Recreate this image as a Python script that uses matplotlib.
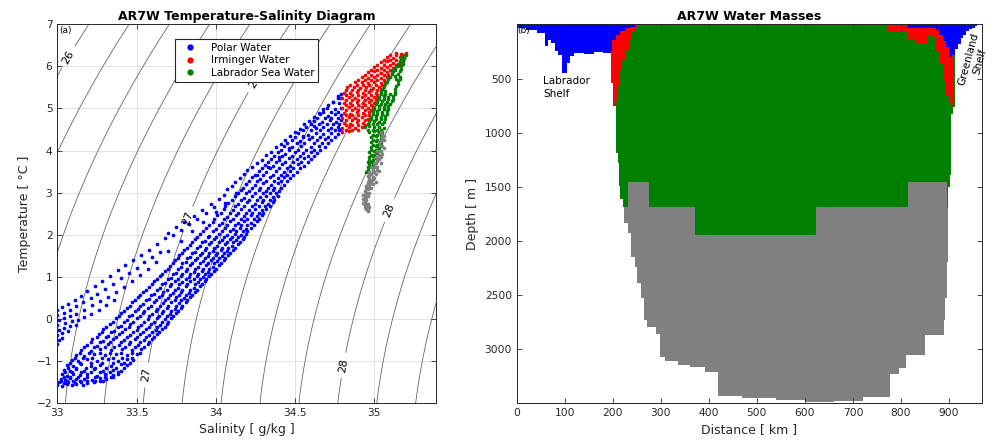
import numpy as np
import matplotlib
matplotlib.use('Agg')
import matplotlib.pyplot as plt
from matplotlib.lines import Line2D

# ---- T-S diagram data (Salinity g/kg, Temperature degC) ----
polar_body = [
    (33.00,-1.57),(33.03,-1.59),(33.06,-1.56),(33.09,-1.58),(33.12,-1.55),(33.16,-1.57),
    (33.01,-1.50),(33.04,-1.53),(33.07,-1.51),(33.11,-1.53),(33.15,-1.50),(33.19,-1.52),(33.23,-1.49),(33.27,-1.47),
    (33.02,-1.42),(33.05,-1.45),(33.08,-1.41),(33.12,-1.44),(33.17,-1.42),(33.22,-1.45),(33.27,-1.41),(33.31,-1.43),(33.34,-1.39),
    (33.03,-1.32),(33.06,-1.35),(33.10,-1.31),(33.14,-1.34),(33.19,-1.31),(33.25,-1.35),(33.30,-1.32),(33.35,-1.34),(33.38,-1.30),
    (33.04,-1.21),(33.08,-1.24),(33.12,-1.20),(33.17,-1.23),(33.23,-1.20),(33.29,-1.24),(33.35,-1.21),(33.40,-1.23),
    (33.06,-1.10),(33.10,-1.12),(33.15,-1.08),(33.21,-1.11),(33.27,-1.09),(33.34,-1.12),(33.40,-1.08),(33.44,-1.10),
    (33.09,-0.97),(33.13,-1.00),(33.19,-0.96),(33.25,-0.99),(33.32,-0.96),(33.38,-0.99),(33.44,-0.96),(33.48,-0.98),
    (33.12,-0.85),(33.17,-0.88),(33.23,-0.84),(33.30,-0.87),(33.37,-0.84),(33.44,-0.87),(33.50,-0.84),
    (33.15,-0.73),(33.21,-0.76),(33.27,-0.72),(33.34,-0.75),(33.41,-0.72),(33.47,-0.75),(33.53,-0.72),
    (33.19,-0.61),(33.25,-0.64),(33.32,-0.60),(33.39,-0.63),(33.45,-0.60),(33.51,-0.63),(33.57,-0.60),
    (33.22,-0.49),(33.29,-0.52),(33.35,-0.48),(33.42,-0.51),(33.49,-0.48),(33.55,-0.51),(33.60,-0.48),
    (33.26,-0.37),(33.32,-0.40),(33.39,-0.36),(33.46,-0.39),(33.52,-0.36),(33.58,-0.39),(33.63,-0.36),
    (33.29,-0.25),(33.36,-0.28),(33.43,-0.24),(33.50,-0.27),(33.56,-0.24),(33.62,-0.27),(33.66,-0.24),
    (33.33,-0.13),(33.40,-0.16),(33.46,-0.12),(33.53,-0.15),(33.59,-0.12),(33.65,-0.15),(33.69,-0.12),
    (33.37,0.01),(33.44,-0.02),(33.50,0.02),(33.57,-0.01),(33.63,0.02),(33.68,-0.01),(33.72,0.02),
    (33.40,0.13),(33.47,0.10),(33.54,0.14),(33.60,0.11),(33.66,0.14),(33.71,0.11),(33.75,0.14),
    (33.44,0.26),(33.51,0.23),(33.57,0.27),(33.63,0.24),(33.69,0.27),(33.74,0.24),(33.78,0.27),
    (33.47,0.39),(33.54,0.36),(33.61,0.40),(33.67,0.37),(33.72,0.40),(33.77,0.37),(33.81,0.40),
    (33.51,0.51),(33.58,0.48),(33.64,0.52),(33.70,0.49),(33.75,0.52),(33.80,0.49),(33.84,0.52),
    (33.54,0.63),(33.61,0.60),(33.67,0.64),(33.73,0.61),(33.78,0.64),(33.83,0.61),(33.87,0.64),
    (33.58,0.76),(33.65,0.73),(33.71,0.77),(33.76,0.74),(33.81,0.77),(33.86,0.74),(33.90,0.77),
    (33.61,0.89),(33.68,0.86),(33.74,0.90),(33.79,0.87),(33.84,0.90),(33.89,0.87),(33.93,0.90),
    (33.65,1.01),(33.72,0.98),(33.78,1.02),(33.83,0.99),(33.88,1.02),(33.92,0.99),(33.96,1.02),
    (33.68,1.13),(33.75,1.10),(33.81,1.14),(33.86,1.11),(33.91,1.14),(33.95,1.11),(33.99,1.14),
    (33.71,1.26),(33.78,1.23),(33.84,1.27),(33.89,1.24),(33.94,1.27),(33.98,1.24),(34.02,1.27),
    (33.74,1.39),(33.81,1.36),(33.87,1.40),(33.92,1.37),(33.97,1.40),(34.01,1.37),(34.05,1.40),
    (33.77,1.51),(33.84,1.48),(33.90,1.52),(33.95,1.49),(34.00,1.52),(34.04,1.49),(34.08,1.52),
    (33.80,1.63),(33.87,1.60),(33.93,1.64),(33.98,1.61),(34.03,1.64),(34.07,1.61),(34.11,1.64),
    (33.84,1.76),(33.90,1.73),(33.96,1.77),(34.01,1.74),(34.06,1.77),(34.10,1.74),(34.14,1.77),
    (33.87,1.89),(33.93,1.86),(33.99,1.90),(34.04,1.87),(34.09,1.90),(34.13,1.87),(34.17,1.90),
    (33.90,2.01),(33.96,1.98),(34.02,2.02),(34.07,1.99),(34.12,2.02),(34.16,1.99),(34.19,2.02),
    (33.94,2.16),(34.00,2.13),(34.06,2.17),(34.11,2.14),(34.15,2.17),(34.19,2.14),(34.22,2.17),
    (33.98,2.31),(34.04,2.28),(34.09,2.32),(34.14,2.29),(34.18,2.32),(34.22,2.29),(34.26,2.32),
    (34.01,2.46),(34.07,2.43),(34.13,2.47),(34.18,2.44),(34.22,2.47),(34.26,2.44),(34.29,2.47),
    (34.05,2.61),(34.11,2.58),(34.16,2.62),(34.21,2.59),(34.25,2.62),(34.29,2.59),(34.32,2.62),
    (34.08,2.76),(34.14,2.73),(34.20,2.77),(34.25,2.74),(34.29,2.77),(34.33,2.74),(34.36,2.77),
    (34.12,2.91),(34.18,2.88),(34.23,2.92),(34.28,2.89),(34.32,2.92),(34.36,2.89),(34.39,2.92),
    (34.16,3.06),(34.21,3.03),(34.27,3.07),(34.32,3.04),(34.36,3.07),(34.40,3.04),
    (34.19,3.21),(34.25,3.18),(34.30,3.22),(34.35,3.19),(34.39,3.22),(34.43,3.19),
    (34.23,3.36),(34.28,3.33),(34.34,3.37),(34.39,3.34),(34.43,3.37),(34.47,3.34),
    (34.27,3.51),(34.32,3.48),(34.38,3.52),(34.43,3.49),(34.47,3.52),(34.51,3.49),
    (34.31,3.66),(34.36,3.63),(34.42,3.67),(34.47,3.64),(34.52,3.67),(34.56,3.64),
    (34.35,3.81),(34.40,3.78),(34.46,3.82),(34.51,3.79),(34.56,3.82),(34.60,3.79),
    (34.39,3.96),(34.44,3.93),(34.50,3.97),(34.55,3.94),(34.60,3.97),(34.64,3.94),
    (34.43,4.11),(34.48,4.08),(34.54,4.12),(34.60,4.09),(34.65,4.12),(34.69,4.09),
    (34.48,4.26),(34.53,4.23),(34.59,4.27),(34.64,4.24),(34.69,4.27),(34.73,4.24),
    (34.52,4.41),(34.58,4.38),(34.63,4.42),(34.68,4.39),(34.73,4.42),(34.77,4.39),
    (34.57,4.56),(34.63,4.53),(34.68,4.57),(34.73,4.54),(34.77,4.57),(34.79,4.52),
    (34.62,4.71),(34.67,4.68),(34.72,4.72),(34.76,4.69),(34.79,4.72),
    (34.66,4.86),(34.71,4.83),(34.75,4.87),(34.79,4.84),
    (34.70,5.01),(34.75,4.98),(34.79,5.02),
    (34.74,5.16),(34.78,5.13),(34.77,5.29),(34.79,5.24),
]
# extra rows of the main Polar Water band: (temperature, salinities)
polar_mid_rows = [
    (-1.47, [33.02, 33.06, 33.10, 33.14, 33.19, 33.24, 33.29]),
    (-1.38, [33.04, 33.08, 33.13, 33.19, 33.24, 33.30, 33.35]),
    (-1.27, [33.05, 33.09, 33.15, 33.21, 33.27, 33.33, 33.38]),
    (-1.16, [33.07, 33.12, 33.18, 33.24, 33.31, 33.37, 33.42]),
    (-1.04, [33.08, 33.14, 33.21, 33.28, 33.35, 33.42, 33.46]),
    (-0.92, [33.11, 33.16, 33.22, 33.28, 33.35, 33.41, 33.47]),
    (-0.80, [33.14, 33.20, 33.27, 33.33, 33.40, 33.47, 33.52]),
    (-0.68, [33.17, 33.23, 33.30, 33.36, 33.43, 33.49, 33.55]),
    (-0.56, [33.21, 33.27, 33.33, 33.40, 33.46, 33.52, 33.58]),
    (-0.44, [33.25, 33.31, 33.37, 33.44, 33.50, 33.56, 33.61]),
    (-0.32, [33.28, 33.34, 33.41, 33.48, 33.54, 33.60, 33.64]),
    (-0.20, [33.31, 33.38, 33.45, 33.51, 33.58, 33.63, 33.68]),
    (-0.07, [33.35, 33.42, 33.48, 33.55, 33.61, 33.66, 33.70]),
    (0.06, [33.39, 33.45, 33.52, 33.58, 33.64, 33.69, 33.73]),
    (0.19, [33.42, 33.49, 33.55, 33.62, 33.67, 33.72, 33.76]),
    (0.31, [33.46, 33.52, 33.59, 33.65, 33.70, 33.75, 33.79]),
    (0.44, [33.49, 33.56, 33.62, 33.68, 33.74, 33.78, 33.82]),
    (0.56, [33.52, 33.59, 33.66, 33.71, 33.77, 33.81, 33.85]),
    (0.69, [33.56, 33.63, 33.69, 33.74, 33.79, 33.84, 33.88]),
    (0.82, [33.60, 33.66, 33.72, 33.77, 33.82, 33.87, 33.91]),
    (0.94, [33.63, 33.70, 33.76, 33.81, 33.86, 33.90, 33.94]),
    (1.06, [33.66, 33.73, 33.79, 33.84, 33.89, 33.93, 33.97]),
    (1.19, [33.70, 33.76, 33.82, 33.87, 33.92, 33.96, 34.00]),
    (1.32, [33.73, 33.79, 33.85, 33.90, 33.95, 33.99, 34.03]),
    (1.44, [33.76, 33.82, 33.88, 33.93, 33.98, 34.02, 34.06]),
    (1.56, [33.79, 33.85, 33.91, 33.96, 34.01, 34.05, 34.09]),
    (1.69, [33.82, 33.88, 33.94, 33.99, 34.04, 34.08, 34.12]),
    (1.82, [33.85, 33.91, 33.97, 34.02, 34.07, 34.11, 34.15]),
    (1.94, [33.88, 33.95, 34.00, 34.05, 34.10, 34.14, 34.18]),
    (2.08, [33.92, 33.98, 34.04, 34.09, 34.13, 34.17, 34.20]),
    (2.22, [33.96, 34.02, 34.07, 34.12, 34.16, 34.20, 34.24]),
    (2.38, [33.99, 34.05, 34.11, 34.16, 34.20, 34.24, 34.27]),
    (2.52, [34.03, 34.09, 34.14, 34.19, 34.23, 34.27, 34.30]),
    (2.68, [34.06, 34.12, 34.18, 34.23, 34.27, 34.31, 34.34]),
    (2.82, [34.10, 34.16, 34.21, 34.26, 34.30, 34.34, 34.37]),
    (2.98, [34.14, 34.19, 34.25, 34.30, 34.34, 34.38]),
    (3.12, [34.17, 34.23, 34.28, 34.33, 34.37, 34.41]),
    (3.28, [34.21, 34.26, 34.32, 34.37, 34.41, 34.45]),
    (3.42, [34.25, 34.30, 34.36, 34.41, 34.45, 34.49]),
    (3.58, [34.29, 34.34, 34.40, 34.45, 34.49, 34.53]),
    (3.72, [34.33, 34.38, 34.44, 34.49, 34.54, 34.58]),
    (3.88, [34.37, 34.42, 34.48, 34.53, 34.58, 34.62]),
    (4.02, [34.41, 34.46, 34.52, 34.57, 34.62, 34.66]),
    (4.18, [34.45, 34.51, 34.56, 34.62, 34.67, 34.71]),
    (4.32, [34.50, 34.55, 34.61, 34.66, 34.71, 34.75]),
    (4.48, [34.55, 34.60, 34.66, 34.71, 34.75, 34.78]),
    (4.62, [34.60, 34.65, 34.70, 34.74, 34.78]),
    (4.78, [34.64, 34.69, 34.73, 34.77]),
    (4.92, [34.68, 34.73, 34.77]),
]
polar_fresh = [
    (33.00,0.22),(33.00,0.10),(33.01,-0.02),(33.00,-0.14),(33.01,-0.26),(33.00,-0.38),(33.01,-0.50),(33.00,-0.60),
    (33.03,0.28),(33.04,0.14),(33.04,0.02),(33.05,-0.10),(33.04,-0.22),(33.03,-0.34),(33.03,-0.46),
    (33.07,0.35),(33.08,0.20),(33.08,0.06),(33.09,-0.06),(33.08,-0.18),(33.07,-0.30),
    (33.11,0.45),(33.12,0.30),(33.12,0.12),(33.13,-0.02),(33.12,-0.14),
    (33.15,0.55),(33.16,0.40),(33.17,0.22),(33.17,0.05),
    (33.19,0.66),(33.21,0.50),(33.22,0.32),(33.21,0.12),
    (33.24,0.78),(33.25,0.60),(33.27,0.42),(33.26,0.22),
    (33.28,0.90),(33.30,0.72),(33.32,0.52),(33.31,0.32),
    (33.33,1.02),(33.35,0.84),(33.37,0.64),(33.36,0.45),
    (33.38,1.15),(33.40,0.96),(33.42,0.76),
    (33.43,1.28),(33.45,1.08),(33.47,0.90),
    (33.48,1.40),(33.50,1.22),(33.52,1.04),
    (33.53,1.52),(33.55,1.35),(33.57,1.18),
    (33.58,1.64),(33.60,1.48),(33.63,1.78),(33.65,1.60),
]
polar_upper = [
    (33.68,1.92),(33.70,2.05),(33.73,2.00),(33.75,2.18),(33.78,2.12),(33.80,2.30),(33.83,2.26),(33.86,2.45),
    (33.88,2.38),(33.91,2.58),(33.94,2.52),(33.97,2.72),(33.99,2.66),(34.02,2.86),(34.05,2.95),(34.07,3.08),
    (34.10,3.16),(34.12,3.26),(34.15,3.34),(34.18,3.44),(34.20,3.55),(34.23,3.60),(34.26,3.70),(34.29,3.78),
    (34.32,3.90),(34.35,3.96),(34.38,4.08),(34.41,4.16),(34.44,4.26),(34.47,4.35),(34.50,4.44),(34.53,4.52),
    (34.56,4.62),(34.59,4.70),(34.62,4.80),(34.65,4.90),(34.68,4.98),(34.71,5.08),(34.74,5.16),(34.77,5.26),
    (34.79,5.34),(33.62,1.35),(33.70,1.62),(33.78,1.86),(33.85,2.10),(33.92,2.30),(34.00,2.55),(34.06,2.75),
    (34.13,3.00),(34.19,3.20),(34.26,3.42),(34.33,3.62),(34.40,3.85),(34.46,4.05),(34.55,4.35),(34.62,4.58),
]
irminger = [
    (35.14,6.32),(35.17,6.30),(35.20,6.33),
    (35.08,6.22),(35.12,6.20),(35.16,6.23),(35.19,6.21),
    (35.04,6.10),(35.08,6.12),(35.12,6.09),(35.16,6.11),
    (35.00,5.98),(35.04,5.96),(35.08,5.99),(35.12,5.97),(35.15,6.00),
    (34.96,5.86),(35.00,5.88),(35.04,5.85),(35.08,5.87),(35.11,5.84),
    (34.92,5.74),(34.96,5.72),(35.00,5.75),(35.04,5.73),(35.08,5.76),
    (34.88,5.62),(34.92,5.64),(34.96,5.61),(35.00,5.63),(35.04,5.60),(35.07,5.63),
    (34.83,5.50),(34.87,5.52),(34.91,5.49),(34.95,5.51),(34.99,5.48),(35.03,5.50),(35.05,5.47),
    (34.81,5.38),(34.85,5.36),(34.89,5.39),(34.93,5.37),(34.97,5.40),(35.01,5.36),(35.04,5.38),
    (34.80,5.26),(34.84,5.28),(34.88,5.25),(34.92,5.27),(34.96,5.24),(35.00,5.27),(35.02,5.24),
    (34.81,5.14),(34.85,5.12),(34.89,5.15),(34.93,5.13),(34.97,5.16),(35.00,5.12),
    (34.80,5.02),(34.84,5.04),(34.88,5.01),(34.92,5.03),(34.96,5.00),(34.99,5.03),
    (34.81,4.90),(34.85,4.88),(34.89,4.91),(34.93,4.89),(34.97,4.92),
    (34.80,4.78),(34.84,4.80),(34.88,4.77),(34.92,4.79),(34.96,4.76),
    (34.81,4.66),(34.85,4.64),(34.89,4.67),(34.93,4.65),(34.96,4.62),
    (34.80,4.54),(34.84,4.56),(34.88,4.53),(34.92,4.57),(34.80,4.44),(34.84,4.46),
]
irminger_mid_rows = [
    (6.27, [35.10, 35.14, 35.18]),
    (6.16, [35.06, 35.10, 35.14, 35.18]),
    (6.04, [35.02, 35.06, 35.10, 35.14, 35.17]),
    (5.92, [34.98, 35.02, 35.06, 35.10, 35.13]),
    (5.80, [34.94, 34.98, 35.02, 35.06, 35.09]),
    (5.68, [34.90, 34.94, 34.98, 35.02, 35.06]),
    (5.56, [34.85, 34.89, 34.93, 34.97, 35.01, 35.05]),
    (5.44, [34.82, 34.86, 34.90, 34.94, 34.98, 35.02, 35.04]),
    (5.32, [34.82, 34.86, 34.90, 34.94, 34.98, 35.02]),
    (5.20, [34.82, 34.86, 34.90, 34.94, 34.98, 35.01]),
    (5.08, [34.82, 34.86, 34.90, 34.94, 34.98]),
    (4.96, [34.82, 34.86, 34.90, 34.94, 34.98]),
    (4.84, [34.82, 34.86, 34.90, 34.94, 34.97]),
    (4.72, [34.82, 34.86, 34.90, 34.94, 34.97]),
    (4.60, [34.82, 34.86, 34.90, 34.94]),
    (4.49, [34.82, 34.86, 34.90]),
]
lsw = [
    (35.18,6.25),(35.20,6.27),(35.16,6.12),(35.18,6.14),(35.14,6.00),(35.17,6.02),
    (35.12,5.88),(35.16,5.90),(35.10,5.76),(35.13,5.78),(35.16,5.75),(35.08,5.64),(35.15,5.66),
    (35.06,5.52),(35.14,5.54),(35.04,5.40),(35.07,5.42),(35.13,5.39),
    (35.03,5.28),(35.06,5.30),(35.09,5.27),(35.12,5.29),(35.02,5.16),(35.05,5.18),(35.08,5.15),(35.11,5.17),
    (35.00,5.04),(35.03,5.06),(35.06,5.03),(35.09,5.05),(34.99,4.92),(35.02,4.94),(35.05,4.91),(35.08,4.93),
    (34.98,4.80),(35.01,4.82),(35.04,4.79),(35.07,4.81),(34.97,4.68),(35.00,4.70),(35.03,4.67),(35.06,4.69),
    (34.94,4.56),(34.97,4.58),(35.00,4.55),(35.03,4.57),(35.06,4.54),
    (34.97,4.44),(35.00,4.46),(35.03,4.43),(35.05,4.45),(34.98,4.32),(35.01,4.34),(35.04,4.31),
    (34.98,4.20),(35.01,4.22),(35.04,4.19),(34.98,4.08),(35.01,4.10),(35.03,4.07),
    (34.97,3.96),(35.00,3.98),(35.02,3.95),(34.97,3.84),(34.99,3.86),(35.01,3.83),
    (34.96,3.72),(34.98,3.74),(35.00,3.71),(34.96,3.60),(34.98,3.62),(34.95,3.50),
]
lsw_mid_rows = [
    (6.19, [35.17, 35.19]), (6.06, [35.15, 35.18]), (5.94, [35.13, 35.17]), (5.82, [35.11, 35.15]),
    (5.70, [35.09, 35.14, 35.16]), (5.58, [35.07, 35.15]), (5.46, [35.05, 35.13]),
    (5.34, [35.04, 35.07, 35.10, 35.13]), (5.22, [35.03, 35.06, 35.09, 35.12]),
    (5.10, [35.01, 35.04, 35.07, 35.10]), (4.98, [35.00, 35.03, 35.06, 35.09]),
    (4.86, [34.99, 35.02, 35.05, 35.08]), (4.74, [34.98, 35.01, 35.04, 35.07]),
    (4.62, [34.96, 34.99, 35.02, 35.05]), (4.50, [34.96, 34.99, 35.02, 35.04]),
    (4.38, [34.99, 35.02, 35.04]), (4.26, [34.99, 35.02, 35.04]), (4.14, [34.99, 35.02]),
    (4.02, [34.98, 35.01]), (3.90, [34.98, 35.00]), (3.78, [34.97, 34.99]), (3.66, [34.97, 34.99]),
    (3.55, [34.96]),
]
other = [
    (35.04,4.45),(35.05,4.30),(35.03,4.20),(35.04,4.10),(35.02,4.00),(35.03,3.90),(35.01,3.85),(35.02,3.75),
    (35.00,3.70),(35.01,3.60),(34.99,3.55),(35.00,3.48),(34.98,3.45),(34.99,3.38),(34.97,3.35),(34.98,3.28),
    (34.96,3.25),(34.97,3.18),(34.95,3.15),(34.96,3.08),(34.94,3.05),(34.95,2.98),(34.94,2.92),(34.93,2.85),
    (34.94,2.78),(34.95,2.72),(34.94,2.66),(34.95,2.60),(34.96,2.56),(34.96,3.40),(34.97,3.50),(34.98,3.62),
    (34.95,2.68),(34.93,2.95),(34.95,3.10),(34.96,3.20),(34.97,3.30),(34.99,3.48),(35.00,3.60),(35.01,3.70),
    (35.02,3.82),(35.03,3.98),(35.04,4.22),(35.05,4.38),(34.94,2.88),(34.93,2.75),(34.96,2.62),(34.97,3.42),
    (35.06,4.25),(35.05,4.12),(35.04,4.00),(35.05,3.92),(35.03,3.80),(35.04,3.70),(35.02,3.62),(35.03,3.52),
    (35.01,3.45),(35.00,3.35),(35.01,3.25),(34.99,3.20),(34.98,3.10),(34.97,3.00),(34.96,2.92),(34.95,2.82),
    (34.96,2.74),(34.97,2.66),(34.94,2.70),(34.95,2.90),(34.97,3.12),(34.98,3.22),(34.99,3.32),(35.02,3.55),
    (35.04,3.85),(35.06,4.05),(35.06,4.35),
]
iso_minor = [25.6, 25.8, 26.2, 26.4, 26.6, 26.8, 27.2, 27.4, 27.6, 27.8, 28.2, 28.4, 28.6]
iso_major = [26.0, 27.0, 28.0]
label_pos = [(33.07, 6.22), (34.27, 5.60), (33.82, 2.39), (35.09, 2.59), (33.56, -1.33), (34.80, -1.10)]

# ---- section data: column edges (km) and lower boundary depth (m) of each class ----
blue_edges = [0, 20, 42, 58, 65, 72, 80, 85, 94, 105, 112, 119, 140, 160, 180, 196, 199, 206, 216, 226,
              236, 246, 256, 813, 873, 880, 887, 893, 900, 906, 912, 918, 924, 930, 936, 942, 948, 954, 958]
blue_depth = [30, 50, 80, 200, 140, 172, 250, 280, 448, 356, 295, 260, 270, 258, 262, 248, 141, 100, 60, 35,
              20, 8, 0, 30, 50, 100, 150, 210, 300, 280, 230, 180, 130, 95, 65, 45, 30, 15]
red_edges = [196, 200, 207, 210, 214, 220, 226, 233, 240, 246, 253, 771, 800, 813, 830, 857, 866, 873,
             880, 887, 893, 900, 905, 908]
red_depth = [540, 755, 700, 570, 417, 330, 240, 140, 60, 20, 0, 60, 75, 135, 170, 110, 120, 250,
             370, 520, 650, 730, 755]
green_edges = [207, 211, 213, 216, 222, 231, 275, 372, 623, 815, 895, 898, 902, 905, 908, 912]
green_depth = [1184, 1276, 1491, 1613, 1681, 1456, 1681, 1943, 1681, 1456, 1681, 1500, 1390, 830, 760]
gray_edges = [222, 224, 232, 238, 246, 250, 259, 264, 272, 289, 299, 309, 335, 360, 393, 420, 470, 540,
              600, 660, 720, 777, 795, 810, 849, 890, 892, 895, 898]
gray_depth = [1681, 1835, 1927, 2143, 2236, 2390, 2529, 2729, 2791, 2853, 3068, 3110, 3140, 3165, 3207,
              3430, 3450, 3470, 3485, 3475, 3440, 3222, 3170, 3053, 2867, 2729, 2528, 2190]


def sigma0(S, T):
    # UNESCO 1983 density at the surface, minus 1000
    rw = (999.842594 + 6.793952e-2*T - 9.095290e-3*T**2 + 1.001685e-4*T**3
          - 1.120083e-6*T**4 + 6.536332e-9*T**5)
    b = 0.824493 - 4.0899e-3*T + 7.6438e-5*T**2 - 8.2467e-7*T**3 + 5.3875e-9*T**4
    c = -5.72466e-3 + 1.0227e-4*T - 1.6546e-6*T**2
    return rw + b*S + c*S**1.5 + 4.8314e-4*S**2 - 1000


def rows_to_pts(rows):
    return [(s, t) for t, ss in rows for s in ss]


dark = '0.15'
plt.rcParams['font.family'] = 'DejaVu Sans'

fig = plt.figure(figsize=(9.99, 4.46), dpi=100)
ax1 = fig.add_axes([0.0574, 0.0964, 0.379, 0.849])
ax2 = fig.add_axes([0.5172, 0.0964, 0.4658, 0.849])

# ---- (a) T-S diagram ----
sg, tg = np.meshgrid(np.linspace(32.9, 35.5, 200), np.linspace(-2.2, 7.2, 200))
rho = sigma0(sg, tg)
ax1.contour(sg, tg, rho, levels=iso_minor, colors='0.35', linewidths=0.55, zorder=1)
cs = ax1.contour(sg, tg, rho, levels=iso_major, colors='0.35', linewidths=0.55, zorder=1)
ax1.clabel(cs, manual=label_pos, inline=True, fmt='%g', fontsize=8, colors='k')

pw = np.array(polar_body + rows_to_pts(polar_mid_rows) + polar_fresh + polar_upper)
iw = np.array(irminger + rows_to_pts(irminger_mid_rows))
lw = np.array(lsw + rows_to_pts(lsw_mid_rows))
ow = np.array(other)
ax1.scatter(pw[:, 0], pw[:, 1], s=7, c='b', linewidths=0, zorder=2)
ax1.scatter(iw[:, 0], iw[:, 1], s=7, c='r', linewidths=0, zorder=2)
ax1.scatter(lw[:, 0], lw[:, 1], s=7, c='#008000', linewidths=0, zorder=2)
ax1.scatter(ow[:, 0], ow[:, 1], s=7, c='0.5', linewidths=0, zorder=2)

ax1.set_xlim(33, 35.39)
ax1.set_ylim(-2, 7)
ax1.set_xticks([33, 33.5, 34, 34.5, 35])
ax1.set_xticklabels(['33', '33.5', '34', '34.5', '35'])
ax1.set_yticks(range(-2, 8))
ax1.grid(True, color='0.87', linewidth=0.6)
ax1.set_axisbelow(True)
ax1.set_title('AR7W Temperature-Salinity Diagram', fontsize=9, fontweight='bold', pad=3)
ax1.set_xlabel('Salinity [ g/kg ]', fontsize=9, color=dark)
ax1.set_ylabel('Temperature [ °C ]', fontsize=9, color=dark)
ax1.text(0.004, 0.995, '(a)', transform=ax1.transAxes, fontsize=6.5, ha='left', va='top')

handles = [Line2D([], [], ls='none', marker='o', ms=4.5, mec='none', mfc=c)
           for c in ['b', 'r', '#008000']]
leg = ax1.legend(handles, ['Polar Water', 'Irminger Water', 'Labrador Sea Water'],
                 loc='upper center', bbox_to_anchor=(0.5, 0.975), fontsize=7.5, fancybox=False,
                 framealpha=1, edgecolor=dark, handlelength=2.2, labelspacing=0.25,
                 borderpad=0.35, handletextpad=0.9)
leg.get_frame().set_linewidth(0.8)
leg.set_zorder(5)

# ---- (b) water-mass section ----
for edges, depth, col in [(gray_edges, gray_depth, '0.5'), (green_edges, green_depth, '#008000'),
                          (red_edges, red_depth, 'r'), (blue_edges, blue_depth, 'b')]:
    e = np.array(edges, dtype=float)
    ax2.bar(e[:-1], depth, width=np.diff(e), bottom=0, align='edge', color=col,
            linewidth=0, antialiased=False)

ax2.set_xlim(0, 968.7)
ax2.set_ylim(3494, 0)
ax2.set_xticks(range(0, 1000, 100))
ax2.set_yticks(range(500, 3500, 500))
ax2.set_title('AR7W Water Masses', fontsize=9, fontweight='bold', pad=3)
ax2.set_xlabel('Distance [ km ]', fontsize=9, color=dark)
ax2.set_ylabel('Depth [ m ]', fontsize=9, color=dark)
ax2.text(0.002, 0.995, '(b)', transform=ax2.transAxes, fontsize=6.5, ha='left', va='top')
ax2.text(55, 480, 'Labrador\nShelf', fontsize=7.5, ha='left', va='top', linespacing=1.3)
ax2.text(952, 330, 'Greenland\nShelf', fontsize=7.5, ha='center', va='center', rotation=75,
         multialignment='center', linespacing=1.2, clip_on=False)

for ax in (ax1, ax2):
    ax.tick_params(direction='in', length=3.5, width=0.6, top=True, right=True,
                   labelsize=7.7, colors=dark)
    for sp in ax.spines.values():
        sp.set_color(dark)
        sp.set_linewidth(0.7)

fig.savefig('out.png', dpi=100)
